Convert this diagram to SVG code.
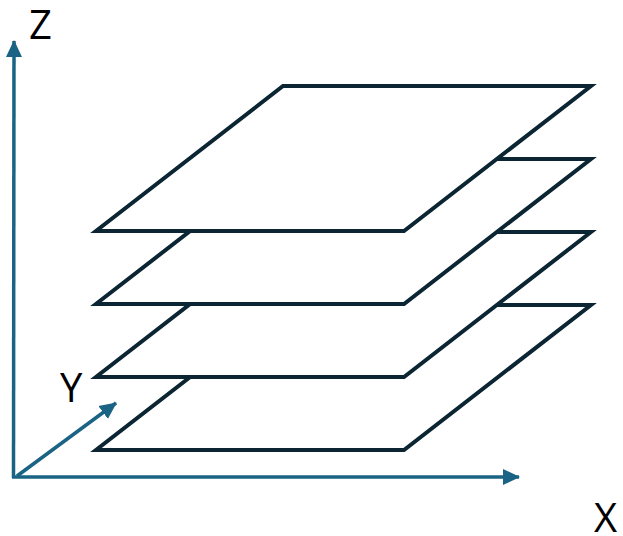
<svg xmlns="http://www.w3.org/2000/svg" width="623" height="536" viewBox="0 0 623 536">
<style>
.plane{fill:#ffffff;stroke:#0b2533;stroke-width:4;stroke-linejoin:miter}
.axis{stroke:#1a6384;stroke-width:3.5;fill:none}
.lbl{font-family:"Open Sans","Noto Sans",sans-serif;font-size:40px;fill:#000}
</style>
<defs>
<marker id="ah" markerUnits="userSpaceOnUse" markerWidth="18" markerHeight="18" viewBox="0 0 18 18" refX="16" refY="9" orient="auto">
<path d="M0,1 L17,9 L0,17 Z" fill="#1a6384"/>
</marker>
</defs>
<rect width="623" height="536" fill="#fff"/>
<g id="axes">
<line class="axis" x1="13.5" y1="478" x2="14" y2="41" marker-end="url(#ah)"/>
<line class="axis" x1="12" y1="477" x2="519" y2="477" marker-end="url(#ah)"/>
<line class="axis" x1="17" y1="476" x2="116" y2="403" marker-end="url(#ah)"/>
</g>
<g id="planes">
<polygon id="plane4" class="plane" points="283,305 591,305 404,450 96,450"/>
<polygon id="plane3" class="plane" points="283,232 591,232 404,377 96,377"/>
<polygon id="plane2" class="plane" points="283,159 591,159 404,304 96,304"/>
<polygon id="plane1" class="plane" points="283,86 591,86 404,231 96,231"/>
</g>
<text class="lbl" x="29" y="39">Z</text>
<text class="lbl" x="60" y="402">Y</text>
<text class="lbl" x="594" y="532">X</text>
</svg>
